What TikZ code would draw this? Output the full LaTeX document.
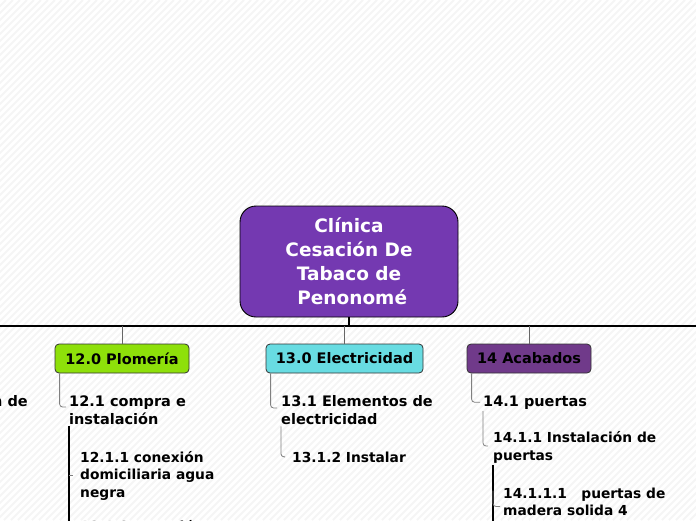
\documentclass[tikz,border=0pt]{standalone}
\usepackage{fontspec}
\setmainfont{DejaVu Sans}
\definecolor{rootpurple}{RGB}{116,57,177}
\definecolor{plumbgreen}{RGB}{142,224,10}
\definecolor{elecyan}{RGB}{104,220,226}
\definecolor{finishpurple}{RGB}{112,58,138}
\begin{document}
\begin{tikzpicture}[x=1pt,y=-1pt,
  rootbox/.style={draw=black, line width=0.9pt, fill=rootpurple, text=white, rounded corners=16pt,
    minimum width=218pt, minimum height=111pt, align=center,
    font=\fontsize{18.5}{24}\selectfont\bfseries},
  topic/.style={draw=black!80, line width=0.8pt, rounded corners=4pt, minimum height=29pt,
    inner xsep=0pt, font=\fontsize{14.5}{18}\selectfont\bfseries},
  sub/.style={anchor=base west, align=left, inner sep=0pt, font=\fontsize{14.5}{18}\selectfont\bfseries},
  subsub/.style={anchor=base west, align=left, inner sep=0pt, font=\fontsize{13.8}{17.5}\selectfont\bfseries},
  link/.style={draw=black!50, line width=0.8pt, rounded corners=3pt},
  trunk/.style={draw=black, line width=1.5pt}]
\useasboundingbox (0,0) rectangle (696,520);
\clip (0,0) rectangle (696,520);
% faint stripes of the page
\foreach \k in {-528,-521,...,700}
  \draw[black!4, line width=2pt] (\k,520) -- (\k+520,0);

% main topic
\node[rootbox] (root) at (349,261.5) {Clínica\\Cesación De\\Tabaco de\\\ Penonomé};
\coordinate (busL) at (0,326);
\coordinate (busR) at (696,326);
\draw[trunk] (busL) -- (busR);
\draw[trunk] (root.south) -- (root.south |- busL);

% branches
\node[topic, fill=plumbgreen, minimum width=134pt] (p12) at (122,358.5) {12.0 Plomería};
\node[topic, fill=elecyan, minimum width=157pt] (p13) at (344.5,358.5) {13.0 Electricidad};
\node[topic, fill=finishpurple, minimum width=124pt] (p14) at (529,358.5) {14 Acabados};
\draw[link, black!60, line width=1pt] (p12.north |- busL) -- (p12.north);
\draw[link, black!60, line width=1pt] (p13.north |- busL) -- (p13.north);
\draw[link, black!60, line width=1pt] (p14.north |- busL) -- (p14.north);

% left, cut off
\node[sub, anchor=base east] (cleft) at (28,406) {n de};

% 12.0 (base = last line)
\node[sub] (c121) at (69,424) {12.1 compra e\\instalación};
\node[subsub] (c1211) at (80,497) {12.1.1 conexión\\domiciliaria agua\\negra};
\node[subsub] (c1212) at (80,531) {12.1.2 conexión};
\draw[link] ([xshift=5pt]p12.south west) |- ([xshift=-3pt,yshift=17pt]c121.base west);
\draw[trunk] ([yshift=-2pt]c121.south west) -- (c121.south west |- c1212.base west);
\draw[link, rounded corners=0pt] (c121.south west |- c1211.west) -- ([xshift=-7pt]c1211.west);

% 13.0
\node[sub] (c131) at (281,424) {13.1 Elementos de\\electricidad};
\node[subsub] (c1312) at (292,462) {13.1.2 Instalar};
\draw[link] ([xshift=5pt]p13.south west) |- ([xshift=-4pt,yshift=16pt]c131.base west);
\draw[link] ([yshift=-2pt]c131.south west) |- ([xshift=-7pt]c1312.west);

% 14
\node[sub] (c141) at (483,406) {14.1 puertas};
\node[subsub] (c1411) at (493,460) {14.1.1 Instalación de\\puertas};
\node[subsub] (c14111) at (503,515.5) {14.1.1.1\ \ \ puertas de\\madera solida 4};
\draw[link] ([xshift=5pt]p14.south west) |- ([xshift=-3pt]c141.west);
\draw[link] ([yshift=-2pt]c141.south west) |- ([xshift=-5pt,yshift=14pt]c1411.base west);
\draw[trunk] ([yshift=-2pt]c1411.south west) -- ([yshift=-60pt]c1411.south west);
\draw[link] ([xshift=-10pt,yshift=25pt]c14111.base west) |- ([xshift=-3pt,yshift=9pt]c14111.base west);
\end{tikzpicture}
\end{document}
